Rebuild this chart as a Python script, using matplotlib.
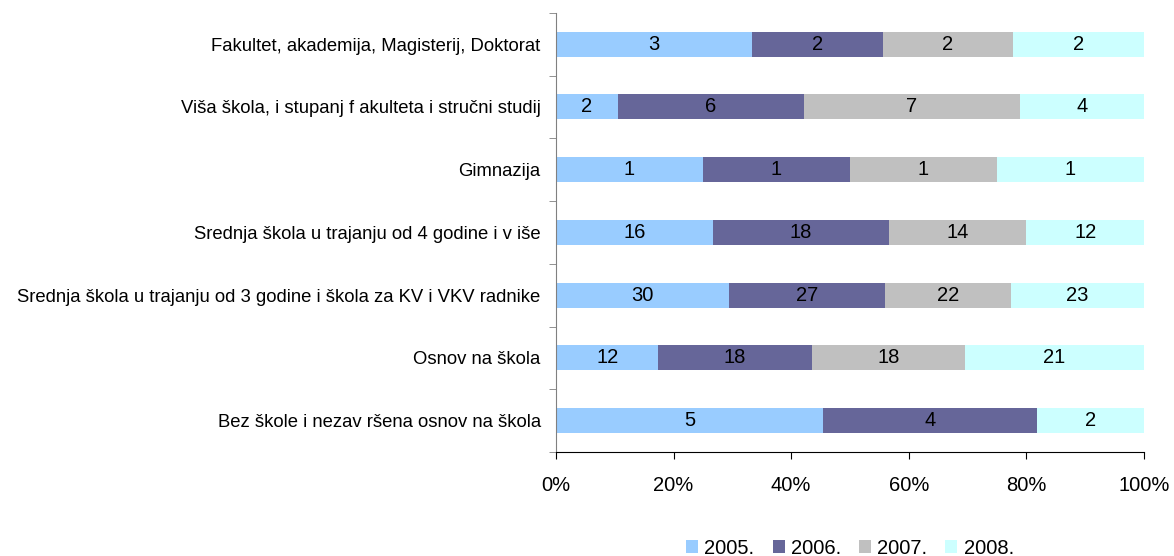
import matplotlib

matplotlib.use("Agg")
import matplotlib.pyplot as plt  # noqa: E402
import numpy as np  # noqa: E402

plt.rcParams["font.family"] = ["Liberation Sans", "DejaVu Sans"]

categories = [
    "Fakultet, akademija, Magisterij, Doktorat",
    "Viša škola, i stupanj f akulteta i stručni studij",
    "Gimnazija",
    "Srednja škola u trajanju od 4 godine i v iše",
    "Srednja škola u trajanju od 3 godine i škola za KV i VKV radnike",
    "Osnov na škola",
    "Bez škole i nezav ršena osnov na škola",
]
years = ["2005.", "2006.", "2007.", "2008."]
v2005 = [3, 2, 1, 16, 30, 12, 5]
v2006 = [2, 6, 1, 18, 27, 18, 4]
v2007 = [2, 7, 1, 14, 22, 18, 0]
v2008 = [2, 4, 1, 12, 23, 21, 2]
colors = ["#99ccff", "#666699", "#c0c0c0", "#ccffff"]

series = np.array([v2005, v2006, v2007, v2008], dtype=float)
shares = series / series.sum(axis=0)

fig = plt.figure(figsize=(11.74, 5.56), dpi=100)
ax = fig.add_axes([0.4736, 0.187, 0.5008, 0.790])

y = np.arange(len(categories))
left = np.zeros(len(categories))
for vals, sh, col, lab in zip(series, shares, colors, years):
    ax.barh(y, sh, left=left, height=0.4, color=col, label=lab, edgecolor="none")
    for yi, v, l, s in zip(y, vals, left, sh):
        if v > 0:
            ax.text(l + s / 2, yi, f"{int(v)}", ha="center", va="center", fontsize=14.5)
    left += sh

ax.set_ylim(len(categories) - 0.5, -0.5)
ax.set_xlim(0, 1)
ax.set_yticks(y)
ax.set_yticklabels(categories, fontsize=13.3)
ax.tick_params(axis="y", length=0, pad=11)
ax.set_yticks(np.arange(-0.5, len(categories), 1), minor=True)
ax.tick_params(axis="y", which="minor", length=5, direction="out", color="#808080")
ax.set_xticks(np.linspace(0, 1, 6))
ax.set_xticklabels([f"{p}%" for p in range(0, 101, 20)], fontsize=14.5)
ax.tick_params(axis="x", length=5, direction="out", pad=12)
for s in ["top", "right"]:
    ax.spines[s].set_visible(False)
ax.spines["left"].set_color("#808080")
ax.spines["left"].set_bounds(len(categories) - 0.5, -0.5)

fig.legend(
    loc="center",
    bbox_to_anchor=(0.724, 0.014),
    ncol=4,
    frameon=False,
    fontsize=14.5,
    handlelength=0.6,
    handleheight=0.6,
    handletextpad=0.3,
    columnspacing=0.9,
)

fig.savefig("out.png", dpi=100)
